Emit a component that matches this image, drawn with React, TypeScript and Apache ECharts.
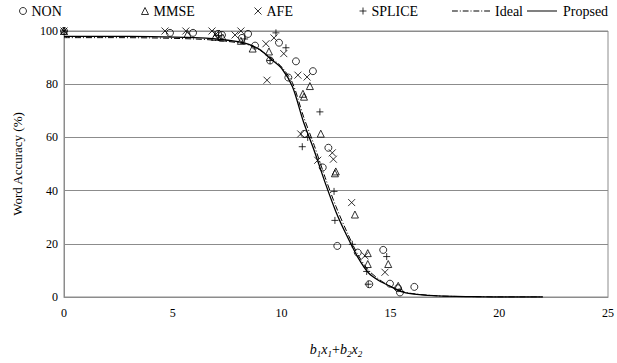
import React, { useEffect, useRef } from "react";
import * as echarts from "echarts";

const FONT = "Liberation Serif";

const nonData: [number, number][] = [
  [0, 100], [4.87, 99.3], [5.93, 99.3], [7.08, 98.9], [7.26, 98.5], [8.46, 98.9], [8.18, 97.4],
  [8.78, 94.5], [9.88, 95.6], [9.47, 88.9], [10.66, 88.6], [10.31, 82.5], [11.44, 84.9],
  [11.04, 61.3], [12.15, 56.1], [11.89, 48.7], [12.56, 19.2], [13.5, 16.7], [14.67, 17.7],
  [14.03, 4.8], [14.98, 5.0], [15.44, 1.7], [16.1, 3.8], [15.35, 3.3],
];
const mmseData: [number, number][] = [
  [0, 100], [5.68, 98.9], [6.94, 97.8], [7.3, 97.5], [8.13, 96.3], [8.67, 93.4], [9.42, 92.3],
  [11.3, 79.3], [10.98, 76.4], [11.03, 75.3], [11.8, 61.4], [12.49, 47.2], [12.45, 46.5],
  [13.37, 31.0], [13.96, 16.5], [13.96, 12.4], [14.9, 12.4], [15.36, 4.2],
];
const afeData: [number, number][] = [
  [0, 100], [4.64, 100], [5.6, 100], [6.8, 100], [7.0, 99.0], [8.13, 100], [7.86, 98.5],
  [9.28, 95.2], [9.65, 97.4], [10.1, 91.5], [9.33, 81.5], [10.75, 83.4], [11.17, 82.7],
  [10.88, 61.3], [12.33, 54.2], [12.38, 51.8], [11.66, 51.4], [13.22, 35.5], [13.83, 15.5],
  [14.75, 9.3],
];
const spliceData: [number, number][] = [
  [0, 100], [7.1, 98.3], [8.3, 97.0], [9.74, 99.3], [10.2, 93.7], [9.47, 88.9], [11.76, 69.6],
  [10.95, 56.5], [11.2, 60.0], [12.41, 39.7], [12.45, 28.8], [13.25, 19.8], [13.91, 9.6],
  [14.83, 15.2], [13.98, 4.8],
];

const curveX = [0, 2, 4, 6, 7, 8, 8.5, 9, 9.5, 10, 10.5, 11, 11.5, 12, 12.5, 13, 13.5, 14, 14.5, 15, 15.5, 16, 17, 18, 19, 20, 21, 22];
const proposedY = [98, 98, 97.9, 97.5, 97, 96, 95, 93, 89.5, 86, 79, 66, 55, 43, 32, 23, 15, 9, 6, 4, 2, 1.2, 0.5, 0.2, 0.1, 0, 0, 0];
const idealY = [97.5, 97.5, 97.4, 97, 96.5, 95.6, 94.7, 92.8, 90, 86.5, 80.5, 68, 57, 45, 34, 24.5, 16, 10, 6.5, 4, 2.2, 1.3, 0.5, 0.2, 0.1, 0, 0, 0];

const xTicks = { min: 0, max: 25, interval: 5 };
const yTicks = { min: 0, max: 100, interval: 20 };

const CROSS = "path://M0,0L10,10M0,10L10,0";
const PLUS = "path://M5,0L5,10M0,5L10,5";
const SOLID_ICON = "path://M0,0L30,0L30,1L0,1Z";
const DASHDOT_ICON =
  "path://M0,0L6,0L6,1L0,1ZM8,0L9,0L9,1L8,1ZM11,0L17,0L17,1L11,1ZM19,0L20,0L20,1L19,1ZM22,0L28,0L28,1L22,1ZM30,0L31,0L31,1L30,1ZM33,0L39,0L39,1L33,1Z";

export default function App() {
  const ref = useRef<HTMLDivElement>(null);
  useEffect(() => {
    if (!ref.current) return;
    const chart = echarts.init(ref.current, null, { renderer: "svg" });
    const markerStyle = { color: "none", borderColor: "#000", borderWidth: 1 };
    const legendBase = {
      top: 4,
      padding: 0,
      itemHeight: 7,
      itemWidth: 7,
      itemGap: 0,
      textStyle: { fontFamily: FONT, fontSize: 14, color: "#000" },
    };
    const scatterLegendItem = (name: string, icon: string) => ({
      name,
      icon,
      itemStyle: { color: "none", borderColor: "#000", borderWidth: 1 },
    });
    const opt: any = {
      animation: false,
      backgroundColor: "#fff",
      grid: { left: 64, right: 9, top: 31, bottom: 61, show: true, borderColor: "#8c8c8c", borderWidth: 1 },
      legend: [
        { ...legendBase, left: 17, data: [scatterLegendItem("NON", "circle")] },
        { ...legendBase, left: 139, data: [scatterLegendItem("MMSE", "triangle")] },
        { ...legendBase, left: 252, data: [scatterLegendItem("AFE", CROSS)] },
        { ...legendBase, left: 357, data: [scatterLegendItem("SPLICE", PLUS)] },
        {
          ...legendBase,
          left: 452,
          itemWidth: 38,
          itemHeight: 1,
          data: [{ name: "Ideal", icon: DASHDOT_ICON, itemStyle: { color: "#000", borderWidth: 0 } }],
        },
        {
          ...legendBase,
          left: 527,
          itemWidth: 32,
          itemHeight: 1,
          data: [{ name: "Propsed", icon: SOLID_ICON, itemStyle: { color: "#000", borderWidth: 0 } }],
        },
      ],
      xAxis: {
        type: "value",
        ...xTicks,
        axisLine: { show: true, lineStyle: { color: "#8c8c8c" } },
        axisTick: { show: false },
        splitLine: { show: false },
        axisLabel: { fontFamily: FONT, fontSize: 12, color: "#000", margin: 10 },
        name: "{i|b}{s|1}{i|x}{s|1}{n|+}{i|b}{s|2}{i|x}{s|2}",
        nameLocation: "middle",
        nameGap: 44,
        nameTextStyle: {
          fontFamily: FONT,
          fontSize: 14,
          color: "#000",
          rich: {
            i: { fontFamily: FONT, fontStyle: "italic", fontSize: 14, color: "#000" },
            s: { fontFamily: FONT, fontStyle: "italic", fontSize: 9, color: "#000", padding: [8, 0, 0, 0] },
            n: { fontFamily: FONT, fontSize: 14, color: "#000" },
          },
        },
      },
      yAxis: {
        type: "value",
        ...yTicks,
        axisLine: { show: true, lineStyle: { color: "#8c8c8c" } },
        axisTick: { show: false },
        splitLine: { show: true, lineStyle: { color: "#8c8c8c", width: 1 } },
        axisLabel: { fontFamily: FONT, fontSize: 12, color: "#000", margin: 6 },
        name: "Word Accuracy (%)",
        nameLocation: "middle",
        nameGap: 40,
        nameTextStyle: { fontFamily: FONT, fontSize: 13, color: "#000" },
      },
      series: [
        { name: "NON", type: "scatter", data: nonData, symbol: "circle", symbolSize: 7, itemStyle: markerStyle },
        { name: "MMSE", type: "scatter", data: mmseData, symbol: "triangle", symbolSize: 7, itemStyle: markerStyle },
        { name: "AFE", type: "scatter", data: afeData, symbol: CROSS, symbolSize: 7, itemStyle: markerStyle },
        { name: "SPLICE", type: "scatter", data: spliceData, symbol: PLUS, symbolSize: 7, itemStyle: markerStyle },
        {
          name: "Ideal",
          type: "line",
          data: curveX.map((x, i) => [x, idealY[i]]),
          symbol: "none",
          smooth: 0.3,
          itemStyle: { color: "#000" },
          lineStyle: { color: "#000", width: 1, type: [6, 2, 1, 2] },
        },
        {
          name: "Propsed",
          type: "line",
          data: curveX.map((x, i) => [x, proposedY[i]]),
          symbol: "none",
          smooth: 0.3,
          itemStyle: { color: "#000" },
          lineStyle: { color: "#000", width: 1.3 },
        },
      ],
    };
    chart.setOption(opt);
    return () => chart.dispose();
  }, []);
  return <div ref={ref} style={{ width: 617, height: 363, position: "absolute", left: 0, top: 0 }} />;
}
